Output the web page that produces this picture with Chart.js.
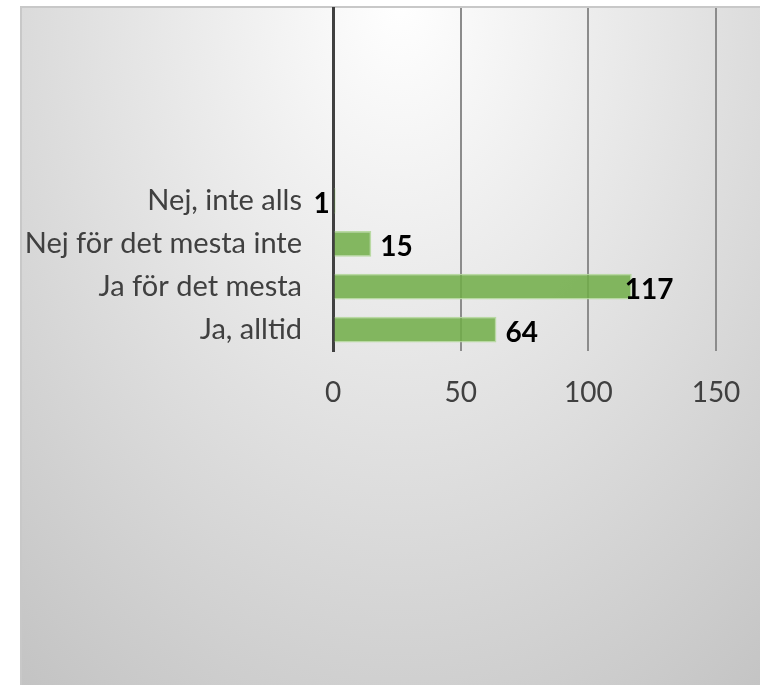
<!DOCTYPE html>
<html>
<head>
<meta charset="utf-8">
<script src="https://cdn.jsdelivr.net/npm/chart.js@4"></script>
<style>
  html, body { margin: 0; padding: 0; background: #fff; }
  #wrap { position: relative; width: 760px; height: 685px; }
</style>
</head>
<body>
<div id="wrap"><canvas id="answerChart" width="760" height="685"></canvas></div>
<script>
// svarsalternativ, uppifrån och ned (de fyra översta raderna är tomma i originalet)
const categories = ['', '', '', '', 'Nej, inte alls', 'Nej för det mesta inte', 'Ja för det mesta', 'Ja, alltid'];
const answerCounts = [null, null, null, null, 1, 15, 117, 64];
const xTicks = [0, 50, 100, 150];

const FONT = 'Lato, "Open Sans", sans-serif';

// bakgrund med grå gradient och tunn ram upptill/vänster
const backgroundPlugin = {
  id: 'bgFill',
  beforeDraw(chart) {
    const ctx = chart.ctx;
    const w = chart.width, h = chart.height;
    ctx.save();
    ctx.fillStyle = '#ffffff';
    ctx.fillRect(0, 0, w, h);
    ctx.beginPath();
    ctx.rect(21, 7, w - 21, h - 7);
    ctx.clip();
    ctx.translate(400, 0);
    ctx.scale(1, 1.4);
    const g = ctx.createRadialGradient(0, 0, 0, 0, 0, 620);
    g.addColorStop(0, '#ffffff');
    g.addColorStop(1, '#c3c3c3');
    ctx.fillStyle = g;
    ctx.fillRect(-500, -10, 1000, 520);
    ctx.restore();

    ctx.save();
    ctx.strokeStyle = '#c8c8c8';
    ctx.lineWidth = 2;
    ctx.beginPath();
    ctx.moveTo(21, h);
    ctx.lineTo(21, 7);
    ctx.lineTo(w, 7);
    ctx.stroke();
    ctx.restore();
  }
};

// värdeetiketter vid stapelns slut
const valueLabelPlugin = {
  id: 'valueLabels',
  afterDatasetsDraw(chart, args, opts) {
    const ctx = chart.ctx;
    const meta = chart.getDatasetMeta(0);
    ctx.save();
    ctx.font = 'bold 28px ' + FONT;
    ctx.fillStyle = '#000000';
    ctx.textBaseline = 'middle';
    ctx.textAlign = 'left';
    meta.data.forEach((bar, i) => {
      const v = answerCounts[i];
      if (v === null) return;
      const nudge = opts.nudge[i] || 0;
      ctx.fillText(String(v), bar.x + 9 + nudge, bar.y + 3);
    });
    ctx.restore();
  }
};

new Chart(document.getElementById('answerChart'), {
  type: 'bar',
  data: {
    labels: categories,
    datasets: [{
      data: answerCounts,
      backgroundColor: 'rgba(112, 173, 71, 0.85)',
      borderColor: 'rgba(180, 215, 155, 0.9)',
      borderWidth: 1.5,
      barPercentage: 0.6,
      categoryPercentage: 1.0
    }]
  },
  options: {
    indexAxis: 'y',
    responsive: false,
    animation: false,
    devicePixelRatio: 1,
    layout: { padding: { top: 8, right: 44, bottom: 0, left: 0 } },
    plugins: {
      legend: { display: false },
      tooltip: { enabled: false },
      valueLabels: { nudge: [0, 0, 0, 0, -31, 0, -16, 0] }
    },
    scales: {
      x: {
        min: 0,
        max: 150,
        afterBuildTicks(scale) {
          scale.ticks = xTicks.map(v => ({ value: v }));
        },
        afterFit(scale) {
          scale.height = 334;
          scale.paddingLeft = 0;
          scale.paddingRight = 0;
        },
        grid: {
          drawTicks: false,
          color: ctx => ctx.tick && ctx.tick.value === 0 ? '#404040' : '#8c8c8c',
          lineWidth: ctx => ctx.tick && ctx.tick.value === 0 ? 3 : 2
        },
        border: { display: false },
        ticks: {
          padding: 25,
          color: '#404040',
          font: { family: FONT, size: 28 }
        }
      },
      y: {
        afterFit(scale) {
          scale.width = 333;
          scale.paddingTop = 0;
          scale.paddingBottom = 0;
        },
        grid: { display: false, drawTicks: false },
        border: { color: '#404040', width: 3 },
        ticks: {
          padding: 31,
          color: '#404040',
          autoSkip: false,
          font: { family: FONT, size: 29 }
        }
      }
    }
  },
  plugins: [backgroundPlugin, valueLabelPlugin]
});
</script>
</body>
</html>
